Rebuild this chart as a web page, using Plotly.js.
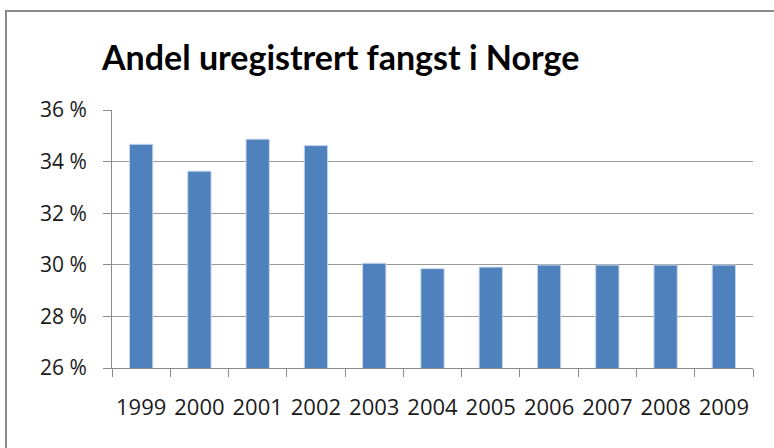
<!DOCTYPE html>
<html>
<head>
<meta charset="utf-8">
<script src="https://cdn.plot.ly/plotly-3.0.1.min.js"></script>
<style>
html,body{margin:0;padding:0;background:#fff;overflow:hidden;}
#chart{width:774px;height:448px;position:absolute;left:0;top:0;}
#frame{position:absolute;left:5px;top:10px;width:800px;height:460px;border-left:2px solid #8a8a8a;border-top:2px solid #8a8a8a;pointer-events:none;}
</style>
</head>
<body>
<div id="chart"></div>
<div id="frame"></div>
<script>
const years = ["1999","2000","2001","2002","2003","2004","2005","2006","2007","2008","2009"];
const shares = [34.67, 33.63, 34.87, 34.62, 30.06, 29.85, 29.91, 29.99, 29.99, 29.99, 29.99];
const yTicks = [26, 28, 30, 32, 34, 36];
const titleText = "Andel uregistrert fangst i Norge";

const trace = {
  type: "bar",
  x: years,
  y: shares,
  marker: {color: "#4f81bd", line: {color: "#c6d6ea", width: 1}},
  hoverinfo: "x+y"
};

const layout = {
  width: 774,
  height: 448,
  margin: {l: 112, r: 21, t: 110, b: 80},
  paper_bgcolor: "#ffffff",
  plot_bgcolor: "#ffffff",
  showlegend: false,
  bargap: 0.6,
  font: {family: "Lato, 'Open Sans', sans-serif", color: "#1a1a1a"},
  title: {
    text: titleText,
    font: {family: "Lato, 'Open Sans', sans-serif", size: 34, color: "#000000", weight: "bold"},
    xref: "container", yref: "container",
    x: 102/774, xanchor: "left",
    y: 1 - 58/448, yanchor: "middle"
  },
  xaxis: {
    type: "category",
    showline: true, linecolor: "#8c8c8c", linewidth: 1,
    ticks: "outside", tickson: "boundaries", ticklen: 8, tickcolor: "#8c8c8c",
    tickangle: 0,
    tickfont: {size: 22, color: "#1a1a1a", family: "'Open Sans', Lato, sans-serif"},
    ticklabelstandoff: 20,
    showgrid: false, zeroline: false,
    fixedrange: true
  },
  yaxis: {
    range: [26, 36],
    tickvals: yTicks,
    ticktext: yTicks.map(v => v + " %"),
    showline: true, linecolor: "#8c8c8c", linewidth: 1,
    ticks: "outside", ticklen: 8, tickcolor: "#8c8c8c",
    tickfont: {size: 21, color: "#1a1a1a", family: "'Open Sans', Lato, sans-serif"},
    ticklabelstandoff: 12,
    showgrid: true, gridcolor: "#9a9a9a", gridwidth: 1,
    zeroline: false,
    fixedrange: true
  }
};

Plotly.newPlot("chart", [trace], layout, {displayModeBar: false, staticPlot: true});
</script>
</body>
</html>
